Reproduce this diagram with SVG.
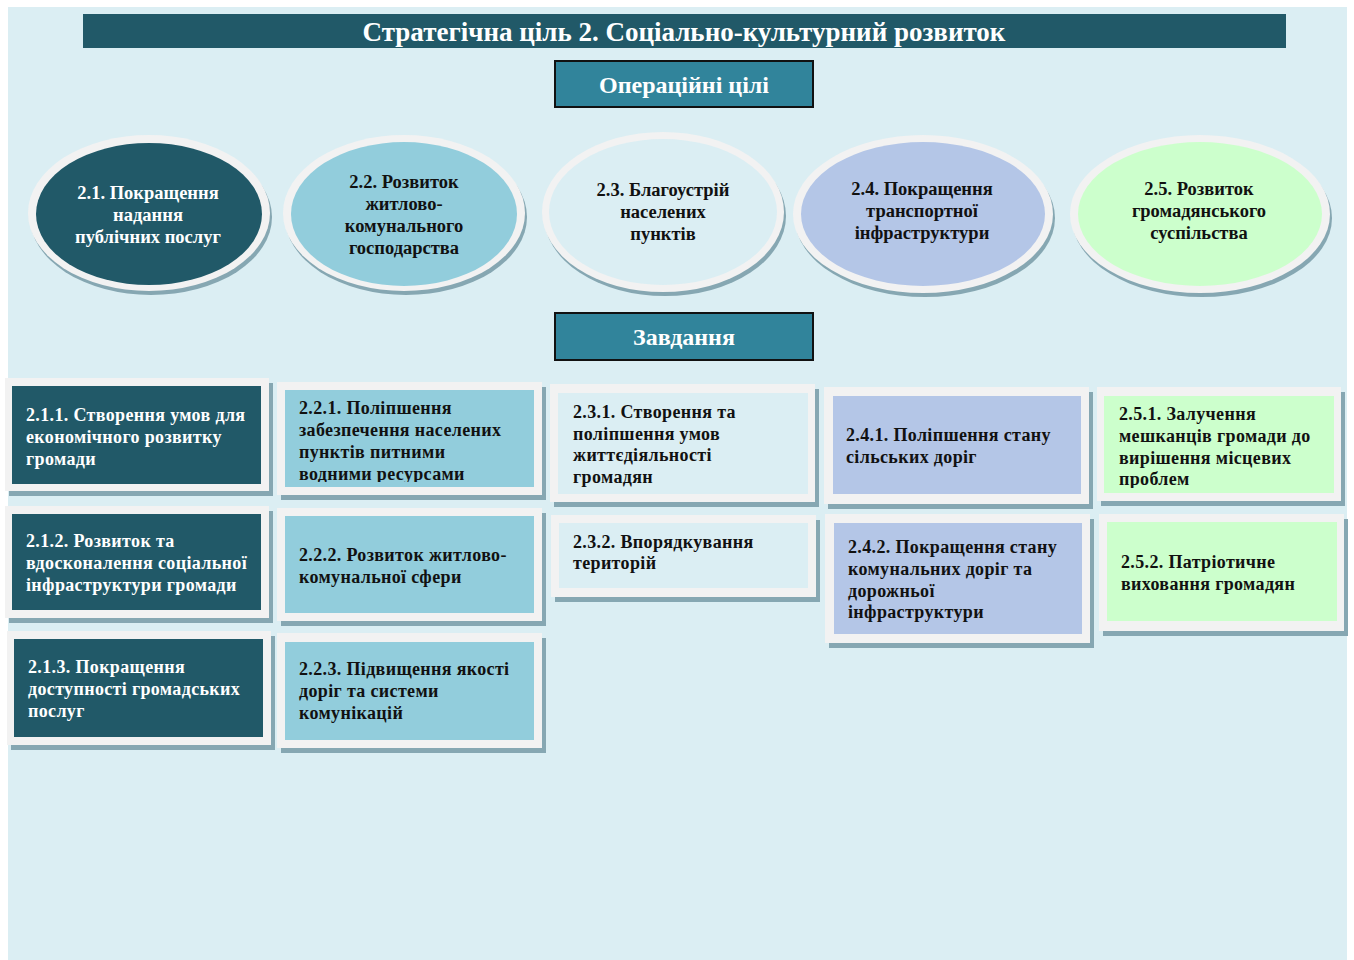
<svg xmlns="http://www.w3.org/2000/svg" width="1354" height="960" viewBox="0 0 1354 960">
<style>
.t{font-family:"Liberation Serif","Times New Roman",serif;font-weight:bold}
.hd{fill:#ffffff;font-size:24px;text-anchor:middle}
.ttl{font-size:27px}
.el{font-size:18.5px;text-anchor:middle}
.bx{font-size:18px;letter-spacing:0.35px}
.w{fill:#ffffff}
.k{fill:#111111}
.sh{fill:#86a7b2}
.fr{fill:#f2f2f2}
.dk{fill:#215968}
.lb{fill:#92cddc}
.pb{fill:#dbeef3}
.bl{fill:#b4c6e7}
.gr{fill:#ccffcc}
</style>
<rect x="0" y="0" width="1354" height="960" fill="#ffffff"/>
<rect x="8" y="7" width="1339" height="953" fill="#dbeef3"/>
<g id="title">
<rect x="83" y="14" width="1203" height="34" fill="#215968"/>
<text class="t hd ttl" x="684" y="41">Стратегічна ціль 2. Соціально-культурний розвиток</text>
</g>
<g id="header-operational">
<rect x="555" y="61" width="258" height="46" fill="#31849b" stroke="#111111" stroke-width="2"/>
<text class="t hd" x="684" y="93">Операційні цілі</text>
</g>
<g id="header-tasks">
<rect x="555" y="313" width="258" height="47" fill="#31849b" stroke="#111111" stroke-width="2"/>
<text class="t hd" x="684" y="345">Завдання</text>
</g>
<g id="connectors"></g>
<g id="goal-2-1">
<ellipse class="sh" cx="151" cy="217" rx="121" ry="78"/>
<ellipse class="fr" cx="149" cy="213" rx="121" ry="78"/>
<ellipse class="dk" cx="149" cy="214" rx="113" ry="71"/>
<text class="t el w" x="148" y="199">2.1. Покращення</text>
<text class="t el w" x="148" y="221">надання</text>
<text class="t el w" x="148" y="243">публічних послуг</text>
</g>
<g id="goal-2-2">
<ellipse class="sh" cx="406" cy="217" rx="121" ry="78"/>
<ellipse class="fr" cx="404" cy="213" rx="121" ry="78"/>
<ellipse class="lb" cx="404" cy="214" rx="113" ry="72"/>
<text class="t el k" x="404" y="188">2.2. Розвиток</text>
<text class="t el k" x="404" y="210">житлово-</text>
<text class="t el k" x="404" y="232">комунального</text>
<text class="t el k" x="404" y="254">господарства</text>
</g>
<g id="goal-2-3">
<ellipse class="sh" cx="665" cy="216" rx="121" ry="80"/>
<ellipse class="fr" cx="663" cy="212" rx="121" ry="80"/>
<ellipse class="pb" cx="663" cy="212" rx="114" ry="73"/>
<text class="t el k" x="663" y="196">2.3. Благоустрій</text>
<text class="t el k" x="663" y="218">населених</text>
<text class="t el k" x="663" y="240">пунктів</text>
</g>
<g id="goal-2-4">
<ellipse class="sh" cx="925" cy="218" rx="130" ry="79"/>
<ellipse class="fr" cx="923" cy="214" rx="130" ry="79"/>
<ellipse class="bl" cx="923" cy="214" rx="122" ry="72"/>
<text class="t el k" x="922" y="195">2.4. Покращення</text>
<text class="t el k" x="922" y="217">транспортної</text>
<text class="t el k" x="922" y="239">інфраструктури</text>
</g>
<g id="goal-2-5">
<ellipse class="sh" cx="1202" cy="218" rx="130" ry="79"/>
<ellipse class="fr" cx="1200" cy="214" rx="130" ry="79"/>
<ellipse class="gr" cx="1200" cy="214" rx="122" ry="72"/>
<text class="t el k" x="1199" y="195">2.5. Розвиток</text>
<text class="t el k" x="1199" y="217">громадянського</text>
<text class="t el k" x="1199" y="239">суспільства</text>
</g>
<g id="task-2-1-1">
<rect class="sh" x="9" y="383" width="264" height="113"/>
<rect class="fr" x="5" y="378" width="264" height="113"/>
<rect class="dk" x="12" y="386" width="249" height="98"/>
<text class="t bx w" x="26" y="421">2.1.1. Створення умов для</text>
<text class="t bx w" x="26" y="443">економічного розвитку</text>
<text class="t bx w" x="26" y="465">громади</text>
</g>
<g id="task-2-1-2">
<rect class="sh" x="9" y="511" width="264" height="112"/>
<rect class="fr" x="5" y="506" width="264" height="112"/>
<rect class="dk" x="12" y="514" width="249" height="96"/>
<text class="t bx w" x="26" y="547">2.1.2. Розвиток та</text>
<text class="t bx w" x="26" y="569">вдосконалення соціальної</text>
<text class="t bx w" x="26" y="591">інфраструктури громади</text>
</g>
<g id="task-2-1-3">
<rect class="sh" x="11" y="636" width="264" height="114"/>
<rect class="fr" x="7" y="631" width="264" height="114"/>
<rect class="dk" x="14" y="639" width="249" height="98"/>
<text class="t bx w" x="28" y="673">2.1.3. Покращення</text>
<text class="t bx w" x="28" y="695">доступності громадських</text>
<text class="t bx w" x="28" y="717">послуг</text>
</g>
<g id="task-2-2-1">
<rect class="sh" x="281" y="387" width="265" height="113"/>
<rect class="fr" x="277" y="382" width="265" height="113"/>
<rect class="lb" x="285" y="390" width="249" height="97"/>
<svg x="285" y="390" width="249" height="92" overflow="hidden">
<text class="t bx k" x="14" y="24">2.2.1. Поліпшення</text>
<text class="t bx k" x="14" y="46">забезпечення населених</text>
<text class="t bx k" x="14" y="68">пунктів питними</text>
<text class="t bx k" x="14" y="90">водними ресурсами</text>
</svg>
</g>
<g id="task-2-2-2">
<rect class="sh" x="281" y="513" width="265" height="113"/>
<rect class="fr" x="277" y="508" width="265" height="113"/>
<rect class="lb" x="285" y="516" width="249" height="97"/>
<text class="t bx k" x="299" y="561">2.2.2. Розвиток житлово-</text>
<text class="t bx k" x="299" y="583">комунальної сфери</text>
</g>
<g id="task-2-2-3">
<rect class="sh" x="281" y="638" width="265" height="115"/>
<rect class="fr" x="277" y="633" width="265" height="115"/>
<rect class="lb" x="285" y="642" width="249" height="98"/>
<text class="t bx k" x="299" y="675">2.2.3. Підвищення якості</text>
<text class="t bx k" x="299" y="697">доріг та системи</text>
<text class="t bx k" x="299" y="719">комунікацій</text>
</g>
<g id="task-2-3-1">
<rect class="sh" x="554" y="389" width="265" height="118"/>
<rect class="fr" x="550" y="384" width="265" height="118"/>
<rect class="pb" x="558" y="393" width="250" height="101"/>
<text class="t bx k" x="573" y="418">2.3.1. Створення та</text>
<text class="t bx k" x="573" y="440">поліпшення умов</text>
<text class="t bx k" x="573" y="461">життєдіяльності</text>
<text class="t bx k" x="573" y="483">громадян</text>
</g>
<g id="task-2-3-2">
<rect class="sh" x="555" y="520" width="265" height="82"/>
<rect class="fr" x="551" y="515" width="265" height="82"/>
<rect class="pb" x="559" y="523" width="249" height="65"/>
<text class="t bx k" x="573" y="548">2.3.2. Впорядкування</text>
<text class="t bx k" x="573" y="569">територій</text>
</g>
<g id="task-2-4-1">
<rect class="sh" x="828" y="392" width="265" height="117"/>
<rect class="fr" x="824" y="387" width="265" height="117"/>
<rect class="bl" x="833" y="396" width="248" height="98"/>
<text class="t bx k" x="846" y="441">2.4.1. Поліпшення стану</text>
<text class="t bx k" x="846" y="463">сільських доріг</text>
</g>
<g id="task-2-4-2">
<rect class="sh" x="829" y="519" width="265" height="129"/>
<rect class="fr" x="825" y="514" width="265" height="129"/>
<rect class="bl" x="834" y="523" width="248" height="111"/>
<text class="t bx k" x="848" y="553">2.4.2. Покращення стану</text>
<text class="t bx k" x="848" y="575">комунальних доріг та</text>
<text class="t bx k" x="848" y="597">дорожньої</text>
<text class="t bx k" x="848" y="618">інфраструктури</text>
</g>
<g id="task-2-5-1">
<rect class="sh" x="1101" y="392" width="244" height="114"/>
<rect class="fr" x="1097" y="387" width="244" height="114"/>
<rect class="gr" x="1104" y="396" width="230" height="97"/>
<svg x="1104" y="396" width="230" height="92" overflow="hidden">
<text class="t bx k" x="15" y="24">2.5.1. Залучення</text>
<text class="t bx k" x="15" y="46">мешканців громади до</text>
<text class="t bx k" x="15" y="68">вирішення місцевих</text>
<text class="t bx k" x="15" y="89">проблем</text>
</svg>
</g>
<g id="task-2-5-2">
<rect class="sh" x="1103" y="519" width="245" height="117"/>
<rect class="fr" x="1099" y="514" width="245" height="117"/>
<rect class="gr" x="1107" y="522" width="230" height="99"/>
<text class="t bx k" x="1121" y="568">2.5.2. Патріотичне</text>
<text class="t bx k" x="1121" y="590">виховання громадян</text>
</g>
</svg>
